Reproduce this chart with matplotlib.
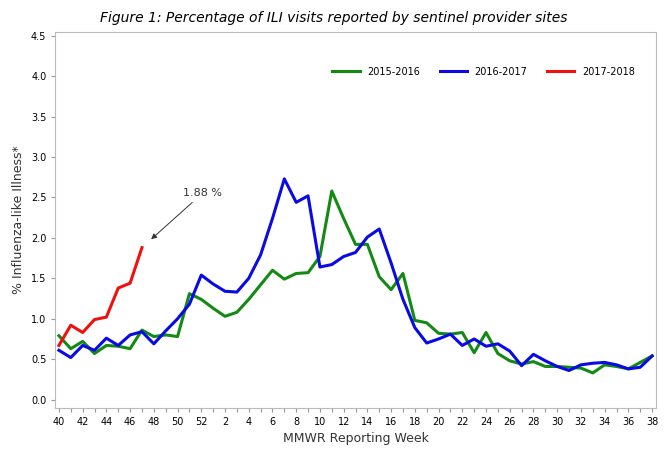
import matplotlib
matplotlib.use("Agg")
import matplotlib.pyplot as plt
import numpy as np

weeks = list(range(40, 53)) + list(range(1, 39))
tick_labels = [str(w) if w % 2 == 0 else "" for w in weeks]

s2015 = [0.79, 0.63, 0.72, 0.57, 0.67, 0.66, 0.63, 0.86, 0.78, 0.80, 0.78, 1.31, 1.24,
         1.13, 1.03, 1.08, 1.24, 1.42, 1.60, 1.49, 1.56, 1.57, 1.77, 2.58, 2.24, 1.92,
         1.92, 1.52, 1.36, 1.56, 0.98, 0.95, 0.82, 0.81, 0.83, 0.58, 0.83, 0.57, 0.48,
         0.44, 0.47, 0.41, 0.41, 0.40, 0.39, 0.33, 0.43, 0.41, 0.38, 0.46, 0.54]
s2016 = [0.61, 0.52, 0.67, 0.61, 0.76, 0.67, 0.80, 0.84, 0.69, 0.85, 1.00, 1.18, 1.54,
         1.43, 1.34, 1.33, 1.50, 1.79, 2.24, 2.73, 2.44, 2.52, 1.64, 1.67, 1.77, 1.82,
         2.01, 2.11, 1.69, 1.24, 0.89, 0.70, 0.75, 0.81, 0.67, 0.75, 0.66, 0.69, 0.60,
         0.42, 0.56, 0.48, 0.41, 0.36, 0.43, 0.45, 0.46, 0.43, 0.38, 0.40, 0.54]
s2017 = [0.67, 0.92, 0.83, 0.99, 1.02, 1.38, 1.44, 1.88]

x = np.arange(len(weeks))

fig = plt.figure(figsize=(6.67, 4.53), dpi=100)
ax = fig.add_axes([0.083, 0.1, 0.9, 0.83])

ax.plot(x, s2015, color="#138a13", lw=2.2, label="2015-2016")
ax.plot(x, s2016, color="#0a0ae6", lw=2.2, label="2016-2017")
ax.plot(np.arange(len(s2017)), s2017, color="#f01010", lw=2.2, label="2017-2018")

ax.annotate("1.88 %", xy=(7.6, 1.96), xytext=(10.5, 2.52), fontsize=8, color="#333333",
            arrowprops=dict(arrowstyle="-|>", color="#333333", lw=0.7))

ax.set_xlim(-0.3, len(weeks) - 0.7)
ax.set_ylim(-0.1, 4.55)
ax.set_xticks(x)
ax.set_xticklabels(tick_labels, fontsize=7)
ax.set_yticks(np.arange(0, 4.51, 0.5))
ax.set_yticklabels(["%.1f" % v for v in np.arange(0, 4.51, 0.5)], fontsize=7)
ax.tick_params(length=3, color="#999999")
for sp in ax.spines.values():
    sp.set_color("#bbbbbb")

ax.set_xlabel("MMWR Reporting Week", fontsize=9, color="#333333")
ax.set_ylabel("% Influenza-like Illness*", fontsize=9, color="#333333")
ax.legend(loc="upper right", ncol=3, frameon=False, fontsize=7,
          bbox_to_anchor=(0.98, 0.93), handlelength=2.8)
fig.text(0.5, 0.975, "Figure 1: Percentage of ILI visits reported by sentinel provider sites",
         ha="center", va="top", fontsize=10, style="italic")

fig.savefig("out.png")
